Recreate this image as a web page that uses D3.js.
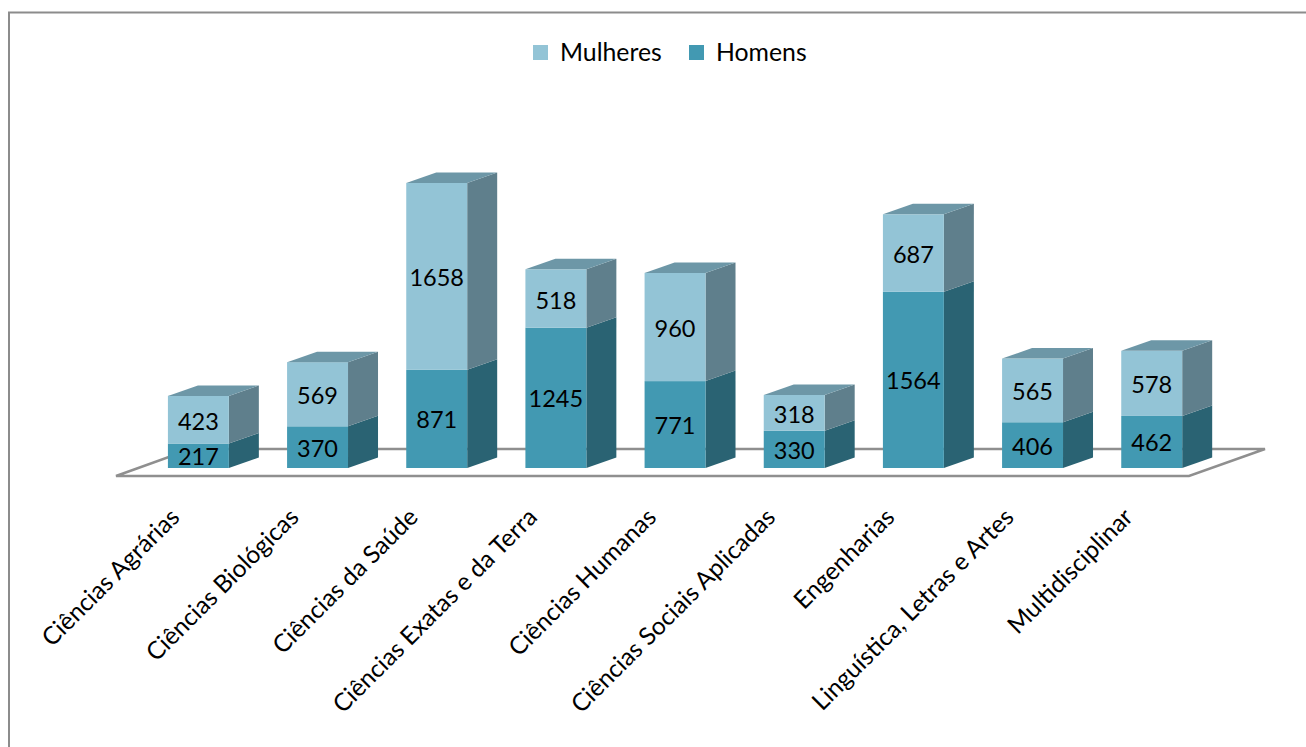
<!DOCTYPE html>
<html><head><meta charset="utf-8">
<script src="https://cdn.jsdelivr.net/npm/d3@7/dist/d3.min.js"></script>
<style>html,body{margin:0;padding:0;background:#fff}svg{display:block}text{font-family:Lato,"Open Sans",sans-serif;fill:#000}</style>
</head><body><svg id="c" width="1306" height="747"></svg>
<script>
const categories=["Ciências Agrárias","Ciências Biológicas","Ciências da Saúde","Ciências Exatas e da Terra","Ciências Humanas","Ciências Sociais Aplicadas","Engenharias","Linguística, Letras e Artes","Multidisciplinar"];
const homens=[217,370,871,1245,771,330,1564,406,462];
const mulheres=[423,569,1658,518,960,318,687,565,578];
const seriesNames=["Mulheres","Homens"];
const svg=d3.select("#c");
const W=1306,H=747,base=468,DX=30,DY=-10.5;
svg.append("path").attr("d",`M9,${H}V12.5H${W}`).attr("fill","none").attr("stroke","#8c8c8c").attr("stroke-width",2);
const x=d3.scaleBand().domain(categories).range([138.8,1211.3]).paddingInner(.4886).paddingOuter(.2443);
const y=d3.scaleLinear().domain([0,2529]).range([base,183]);
svg.append("path").attr("d",`M116,476H1189L1265,449H191Z`).attr("fill","none").attr("stroke","#8f8f8f").attr("stroke-width",2.4);
const pal={Mulheres:{front:"#93c4d6",side:"#5f7f8c",top:"#6d97a7"},Homens:{front:"#4299b2",side:"#2a6373"}};
categories.forEach((c,i)=>{
  const x0=x(c),w=x.bandwidth();
  const y0=y(0),y1=y(homens[i]),y2=y(homens[i]+mulheres[i]);
  const g=svg.append("g");
  const seg=(a,b,p)=>{
    g.append("path").attr("d",`M${x0+w},${a}l${DX},${DY}V${b+DY}L${x0+w},${b}Z`).attr("fill",p.side);
    g.append("rect").attr("x",x0).attr("y",b).attr("width",w).attr("height",a-b).attr("fill",p.front);
  };
  seg(y0,y1,pal.Homens);
  seg(y1,y2,pal.Mulheres);
  g.append("path").attr("d",`M${x0},${y2}l${DX},${DY}h${w}l${-DX},${-DY}Z`).attr("fill",pal.Mulheres.top);
  const cx=x0+w/2;
  g.append("text").attr("x",cx).attr("y",(y0+y1)/2+9.5).attr("text-anchor","middle").attr("font-size",23.5).text(homens[i]);
  g.append("text").attr("x",cx).attr("y",(y1+y2)/2+10).attr("text-anchor","middle").attr("font-size",23.5).text(mulheres[i]);
  svg.append("text").attr("transform",`translate(${cx-23},513) rotate(-45)`).attr("y",8).attr("text-anchor","end").attr("font-size",24.5).text(c);
});
const leg=d3.scaleOrdinal().domain(seriesNames).range([533,689]);
seriesNames.forEach(n=>{
  svg.append("rect").attr("x",leg(n)).attr("y",45).attr("width",15).attr("height",15).attr("fill",pal[n].front);
  svg.append("text").attr("x",leg(n)+27).attr("y",61).attr("font-size",24.8).text(n);
});
</script></body></html>
